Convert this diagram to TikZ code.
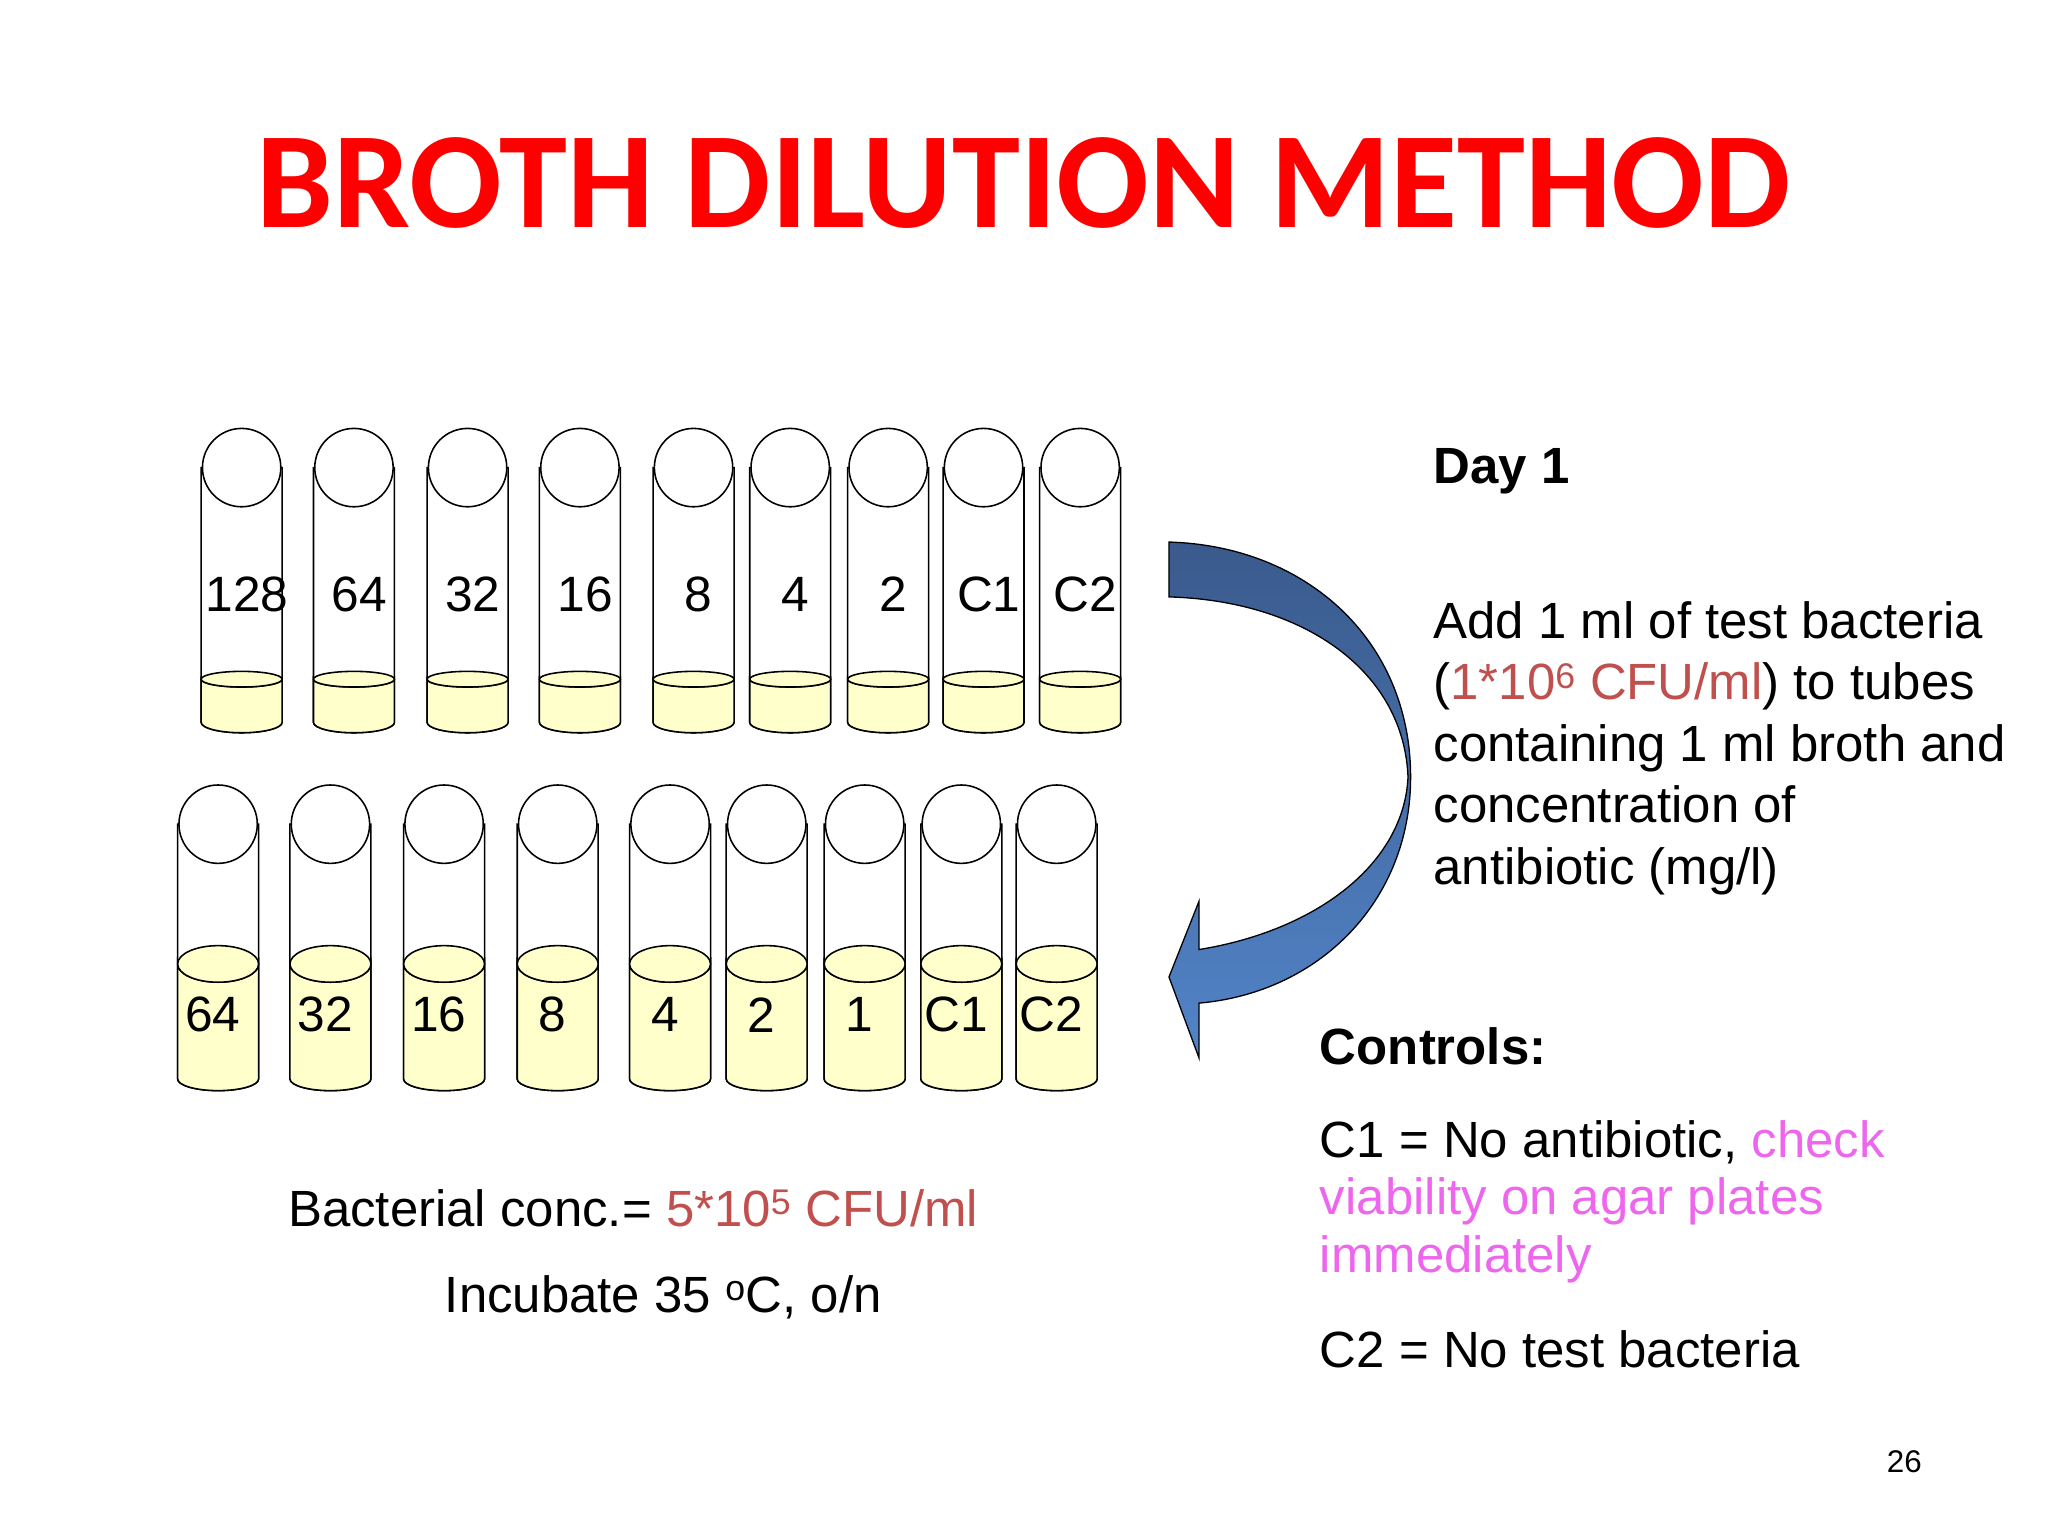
\documentclass[tikz,border=0pt]{standalone}
\usepackage{fontspec}
\setmainfont{Liberation Sans}
\newfontfamily\titlefont{Carlito}
\definecolor{titlered}{HTML}{FF0000}
\definecolor{conc}{HTML}{C0504D}
\definecolor{pinkt}{HTML}{EE66EE}
\definecolor{liq}{HTML}{FFFFCC}
\begin{document}
\begin{tikzpicture}[x=1pt,y=-1pt,line width=1.2pt]
\useasboundingbox (0,0) rectangle (1568,1176);
\tikzset{lab/.style={font=\fontsize{38}{40}\selectfont,inner sep=0pt},
 body/.style={font=\fontsize{39}{47}\selectfont,align=left,inner sep=0pt,anchor=north west}}
\node[font=\titlefont\bfseries\fontsize{105}{110}\selectfont,text=titlered] (title) at (784,140) {BROTH DILUTION METHOD};
% top row
\foreach \x/\t [count=\i] in {185/128,271/64,358/32,444/16,531/8,605/4,680/2,753/C1,827/C2}{
  \draw[fill=white] (\x-31,358) -- (\x-31,553) arc[start angle=180,end angle=0,x radius=31,y radius=8] -- (\x+31,358) -- cycle;
  \draw[fill=liq] (\x-31,520) -- (\x-31,553) arc[start angle=180,end angle=0,x radius=31,y radius=8] -- (\x+31,520) arc[start angle=0,end angle=180,x radius=31,y radius=6] -- cycle;
  \draw[fill=liq] (\x,520) ellipse[x radius=31,y radius=6];
  \draw[fill=white] (\x,358) circle[radius=30];
  \node[lab] (ta\i) at (\x+4,455) {\t};
}
% bottom row
\foreach \x/\t [count=\i] in {167/64,253/32,340/16,427/8,513/4,587/2,662/1,736/C1,809/C2}{
  \draw[fill=white] (\x-31,631) -- (\x-31,826) arc[start angle=180,end angle=0,x radius=31,y radius=9] -- (\x+31,631) -- cycle;
  \draw[fill=liq] (\x-31,738) -- (\x-31,826) arc[start angle=180,end angle=0,x radius=31,y radius=9] -- (\x+31,738) arc[start angle=0,end angle=180,x radius=31,y radius=14] -- cycle;
  \draw[fill=liq] (\x,738) ellipse[x radius=31,y radius=14];
  \draw[fill=white] (\x,631) circle[radius=30];
  \node[lab] (tb\i) at (\x-4,777) {\t};
}
% arrow
\draw[line width=1pt,shading angle=0,
 top color={rgb,255:red,58;green,90;blue,140},bottom color={rgb,255:red,82;green,132;blue,200}]
 (895,415) .. controls (1000,418) and (1080,490) .. (1080,595)
 .. controls (1080,690) and (1010,760) .. (918,768) -- (918,810) -- (895,748) -- (918,690) -- (918,727)
 .. controls (1010,712) and (1075,660) .. (1078,595)
 .. controls (1075,515) and (1000,460) .. (895,457) -- cycle;
% texts
\node[body,font=\bfseries\fontsize{39}{47}\selectfont] (day) at (1097,343) {Day 1};
\node[body] (add) at (1097,460) {Add 1 ml of test bacteria\\(\textcolor{conc}{1*10\textsuperscript{6} CFU/ml}) to tubes\\containing 1 ml broth and\\concentration of\\antibiotic (mg/l)};
\node[body,font=\bfseries\fontsize{39}{47}\selectfont] (ctl) at (1010,786) {Controls:};
\node[body,font=\fontsize{39}{44}\selectfont] (c1) at (1010,857) {C1 = No antibiotic, \textcolor{pinkt}{check}\\\textcolor{pinkt}{viability on agar plates}\\\textcolor{pinkt}{immediately}};
\node[body] (c2) at (1010,1018) {C2 = No test bacteria};
\node[body] (bc) at (220,910) {Bacterial conc.= \textcolor{conc}{5*10\textsuperscript{5} CFU/ml}};
\node[body] (inc) at (340,976) {Incubate 35 \textsuperscript{o}C, o/n};
\node[font=\fontsize{24}{28}\selectfont] (pg) at (1458,1119) {26};
\end{tikzpicture}
\end{document}
